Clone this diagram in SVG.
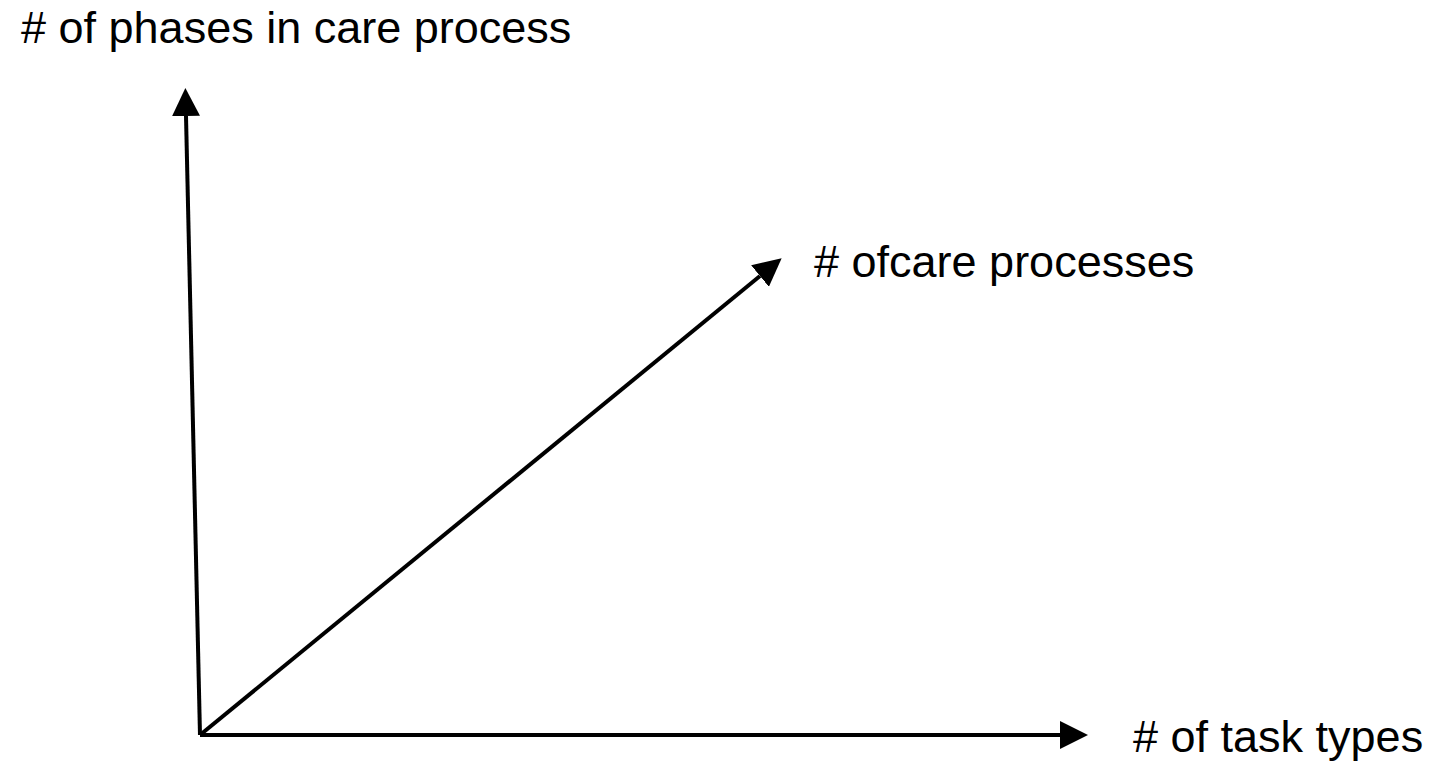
<svg xmlns="http://www.w3.org/2000/svg" width="1439" height="763" viewBox="0 0 1439 763">
  <style>
    .axis { stroke: #000; stroke-width: 4; fill: none; }
    .label { font-family: "Liberation Sans", Arial, sans-serif; font-size: 45px; fill: #000; }
  </style>
  <defs>
    <marker id="arrow" viewBox="0 0 10 10" refX="0" refY="5" markerWidth="7" markerHeight="7" markerUnits="strokeWidth" orient="auto">
      <path d="M0,0 L10,5 L0,10 Z" fill="#000"/>
    </marker>
  </defs>
  <rect width="1439" height="763" fill="#fff"/>
  <g id="connectors">
    <line class="axis" x1="200" y1="735" x2="186" y2="116" marker-end="url(#arrow)"/>
    <line class="axis" x1="200" y1="735" x2="1060" y2="735" marker-end="url(#arrow)"/>
    <line class="axis" x1="200" y1="735" x2="760" y2="276" marker-end="url(#arrow)"/>
  </g>
  <g id="y-axis-label">
    <text class="label" x="21" y="43"># of phases in care process</text>
  </g>
  <g id="z-axis-label">
    <text class="label" x="814" y="277"># ofcare processes</text>
  </g>
  <g id="x-axis-label">
    <text class="label" x="1133" y="752"># of task types</text>
  </g>
</svg>
